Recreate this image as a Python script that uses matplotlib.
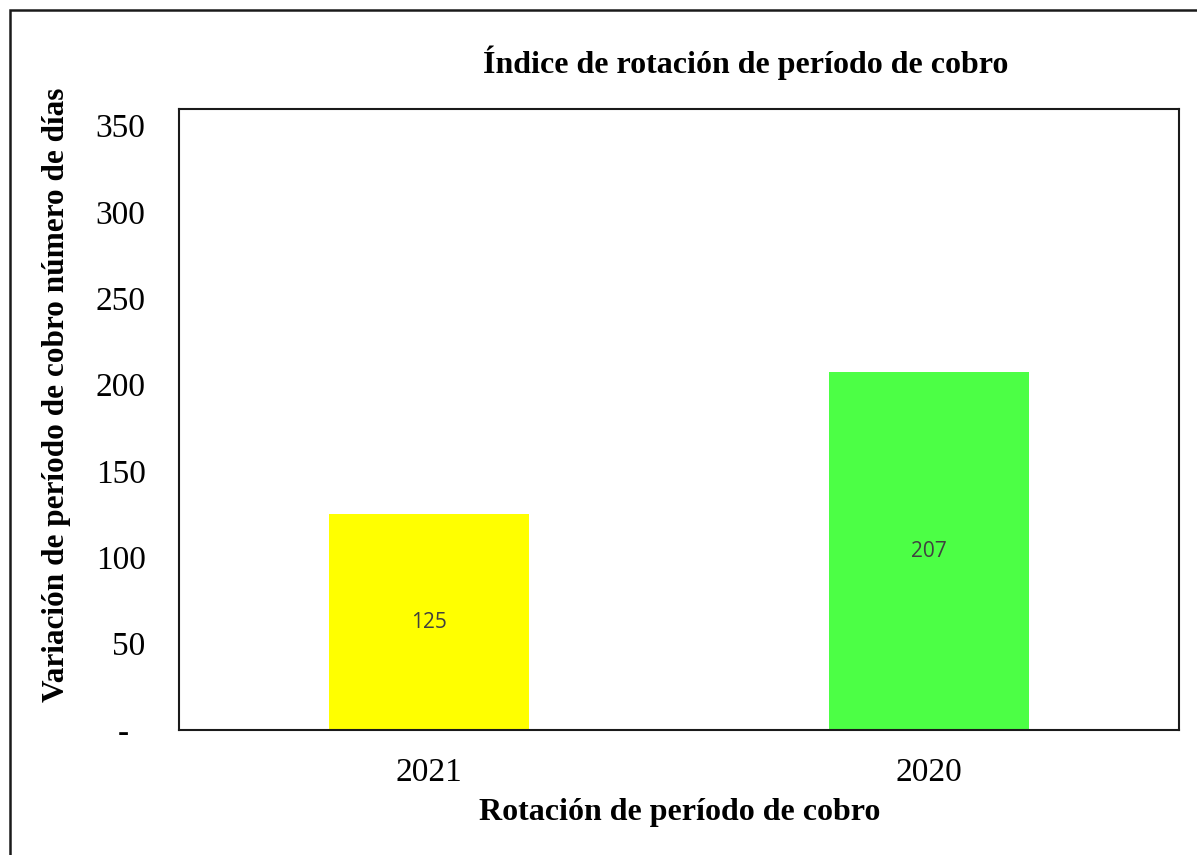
import matplotlib
matplotlib.use('Agg')
import matplotlib.pyplot as plt
import matplotlib.patches as mpatches

categories = ['2021', '2020']
values = [125, 207]
bar_colors = ['#FFFF00', '#4CFF45']
y_ticks = [0, 50, 100, 150, 200, 250, 300, 350]
y_tick_labels = ['-\u2002', '50', '100', '150', '200', '250', '300', '350']

plt.rcParams['font.family'] = ['Liberation Serif', 'DejaVu Serif']

fig = plt.figure(figsize=(11.97, 8.55), dpi=100)
ax = fig.add_axes([179 / 1197, 1 - 730 / 855, 1000 / 1197, 621 / 855])

x = range(len(categories))
bars = ax.bar(x, values, width=0.4, color=bar_colors)
for b, v in zip(bars, values):
    ax.text(b.get_x() + b.get_width() / 2, v / 2, str(v), ha='center', va='center',
            fontsize=15, color='#404040', family=['Open Sans', 'DejaVu Sans'])

ax.set_xlim(-0.5, 1.5)
ax.set_ylim(0, 359.5)
ax.set_xticks(list(x))
ax.set_xticklabels(categories, fontsize=24)
ax.set_yticks(y_ticks)
ax.set_yticklabels(y_tick_labels, fontsize=24)
ax.tick_params(axis='y', length=0, pad=24)
ax.tick_params(axis='x', length=0, pad=20)
for s in ax.spines.values():
    s.set_linewidth(1.5)
    s.set_color('#1a1a1a')

fig.text(680 / 1197, 1 - 812 / 855, 'Rotación de período de cobro',
         ha='center', va='center', fontsize=23, fontweight='bold')
fig.text(57 / 1197, 1 - 395 / 855, 'Variación de período de cobro número de días',
         rotation=90, ha='center', va='center', fontsize=22.5, fontweight='bold')
fig.text(746 / 1197, 1 - 63 / 855, 'Índice de rotación de período de cobro',
         ha='center', va='center', fontsize=23, fontweight='bold')

# outer border of the chart area (runs off the right and bottom edges)
fig.add_artist(mpatches.Rectangle((10 / 1197, -0.05), 1.2, 1 - 10 / 855 + 0.05,
                                  transform=fig.transFigure, fill=False,
                                  edgecolor='#1a1a1a', linewidth=1.8))

plt.savefig('out.png', dpi=100)
